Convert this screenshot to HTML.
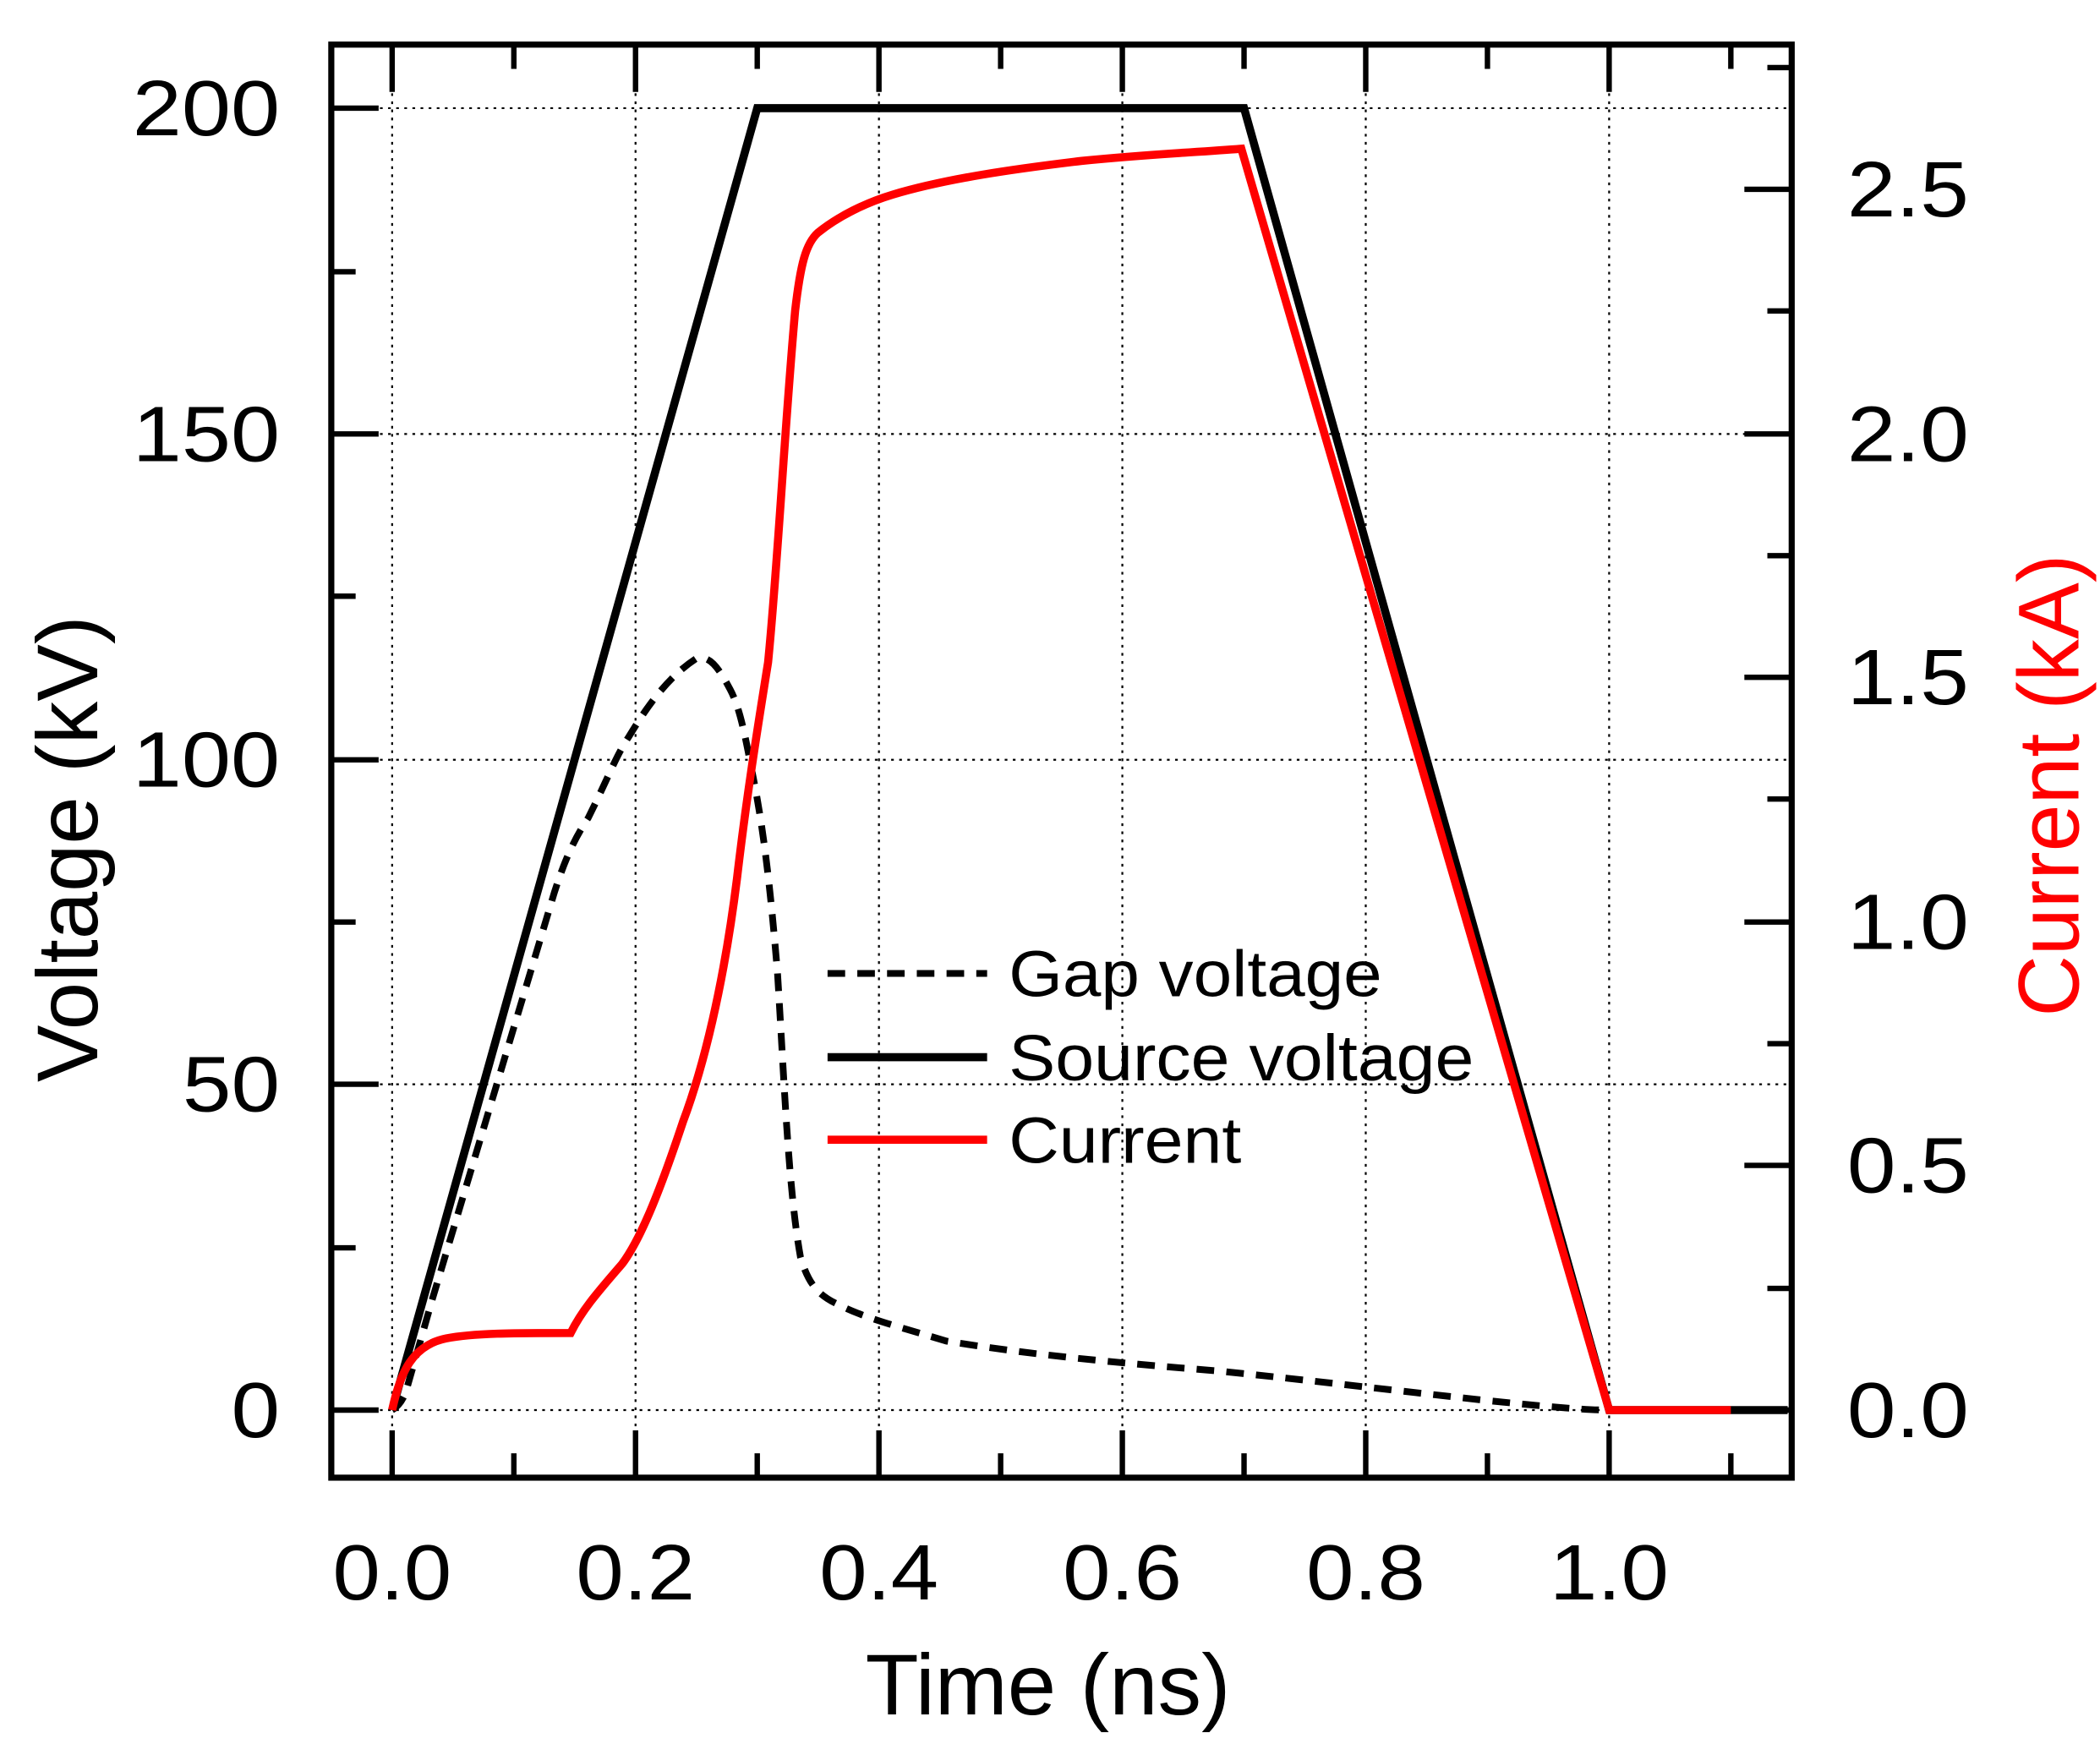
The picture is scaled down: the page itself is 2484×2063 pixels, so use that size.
<!DOCTYPE html>
<html><head><style>html,body{margin:0;padding:0;background:#fff}svg{display:block}</style></head>
<body>
<svg width="2484" height="2063" viewBox="0 0 1553 1290" preserveAspectRatio="none" xmlns="http://www.w3.org/2000/svg" font-family="'Liberation Sans Narrow','Liberation Sans',sans-serif">
<g stroke="#000" stroke-width="1.4" stroke-dasharray="2,4" fill="none">
<line x1="290" y1="33" x2="290" y2="1093"/><line x1="470" y1="33" x2="470" y2="1093"/><line x1="650" y1="33" x2="650" y2="1093"/><line x1="830" y1="33" x2="830" y2="1093"/><line x1="1010" y1="33" x2="1010" y2="1093"/><line x1="1190" y1="33" x2="1190" y2="1093"/>
<line x1="245" y1="80" x2="1325" y2="80"/><line x1="245" y1="321" x2="1325" y2="321"/><line x1="245" y1="562" x2="1325" y2="562"/><line x1="245" y1="802" x2="1325" y2="802"/><line x1="245" y1="1043" x2="1325" y2="1043"/>
</g>
<g stroke="#000" stroke-width="4">
<path d="M290 1093v-35M470 1093v-35M650 1093v-35M830 1093v-35M1010 1093v-35M1190 1093v-35M380 1093v-18M560 1093v-18M740 1093v-18M920 1093v-18M1100 1093v-18M1280 1093v-18"/>
<path d="M290 33v35M470 33v35M650 33v35M830 33v35M1010 33v35M1190 33v35M380 33v18M560 33v18M740 33v18M920 33v18M1100 33v18M1280 33v18"/>
<path d="M245 80h35M245 321h35M245 562h35M245 802h35M245 1043h35M245 201h18M245 441h18M245 682h18M245 923h18"/>
<path d="M1325 1043h-35M1325 862h-35M1325 682h-35M1325 501h-35M1325 321h-35M1325 140h-35M1325 953h-18M1325 772h-18M1325 591h-18M1325 411h-18M1325 230h-18M1325 50h-18"/>
</g>
<rect x="245" y="33" width="1080" height="1060" fill="none" stroke="#000" stroke-width="4.5"/>
<polyline points="290,1043 560,80 920,80 1190,1043 1280,1043 1322,1043" fill="none" stroke="#000" stroke-width="6"/>
<path d="M290,1043 C295,1040 298,1035 300,1030 L320,960 L350,860 L380,760 L410,660 C418,635 425,620 435,605 C450,575 455,560 465,545 C480,520 495,500 515,487 C525,484 532,495 540,510 C548,525 552,550 557,575 C565,615 570,660 575,720 C580,800 583,880 592,930 C598,950 605,958 620,965 C640,975 660,980 700,992 C750,1000 800,1006 900,1014 C960,1020 1000,1025 1100,1036 C1140,1040 1170,1043 1190,1043" fill="none" stroke="#000" stroke-width="5" stroke-dasharray="13,9"/>
<path d="M290,1043 C296,1015 305,995 330,990 C350,986 380,986 422,986 C430,970 440,958 460,935 C475,915 490,875 505,830 C520,790 535,730 545,650 C552,590 560,540 568,490 C575,420 580,320 588,230 C592,195 596,180 605,172 C620,160 640,150 660,144 C700,132 750,125 800,119 C850,114 880,113 918,110 L1190,1043 L1280,1043" fill="none" stroke="#f00" stroke-width="6"/>
<line x1="612" y1="720" x2="730" y2="720" stroke="#000" stroke-width="5" stroke-dasharray="13,9"/>
<line x1="612" y1="782" x2="730" y2="782" stroke="#000" stroke-width="6"/>
<line x1="612" y1="843" x2="730" y2="843" stroke="#f00" stroke-width="6"/>
<g font-size="48" fill="#000">
<text x="746" y="737" textLength="276" lengthAdjust="spacingAndGlyphs">Gap voltage</text>
<text x="746" y="799" textLength="344" lengthAdjust="spacingAndGlyphs">Source voltage</text>
<text x="746" y="860" textLength="172" lengthAdjust="spacingAndGlyphs">Current</text>
</g>
<g font-size="58" fill="#000" text-anchor="end">
<text x="207" y="100" textLength="109" lengthAdjust="spacingAndGlyphs">200</text>
<text x="207" y="341" textLength="109" lengthAdjust="spacingAndGlyphs">150</text>
<text x="207" y="582" textLength="109" lengthAdjust="spacingAndGlyphs">100</text>
<text x="207" y="822" textLength="72" lengthAdjust="spacingAndGlyphs">50</text>
<text x="207" y="1063" textLength="36" lengthAdjust="spacingAndGlyphs">0</text>
</g>
<g font-size="58" fill="#000" text-anchor="middle">
<text x="290" y="1183" textLength="88" lengthAdjust="spacingAndGlyphs">0.0</text>
<text x="470" y="1183" textLength="88" lengthAdjust="spacingAndGlyphs">0.2</text>
<text x="650" y="1183" textLength="88" lengthAdjust="spacingAndGlyphs">0.4</text>
<text x="830" y="1183" textLength="88" lengthAdjust="spacingAndGlyphs">0.6</text>
<text x="1010" y="1183" textLength="88" lengthAdjust="spacingAndGlyphs">0.8</text>
<text x="1190" y="1183" textLength="88" lengthAdjust="spacingAndGlyphs">1.0</text>
</g>
<g font-size="58" fill="#000">
<text x="1366" y="1063" textLength="90" lengthAdjust="spacingAndGlyphs">0.0</text>
<text x="1366" y="882" textLength="90" lengthAdjust="spacingAndGlyphs">0.5</text>
<text x="1366" y="702" textLength="90" lengthAdjust="spacingAndGlyphs">1.0</text>
<text x="1366" y="521" textLength="90" lengthAdjust="spacingAndGlyphs">1.5</text>
<text x="1366" y="341" textLength="90" lengthAdjust="spacingAndGlyphs">2.0</text>
<text x="1366" y="160" textLength="90" lengthAdjust="spacingAndGlyphs">2.5</text>
</g>
<text x="775" y="1268" font-size="64" text-anchor="middle" textLength="270" lengthAdjust="spacingAndGlyphs">Time (ns)</text>
<text transform="translate(72,628) rotate(-90)" font-size="64" text-anchor="middle" textLength="345" lengthAdjust="spacingAndGlyphs">Voltage (kV)</text>
<text transform="translate(1537,581) rotate(-90)" font-size="64" fill="#f00" text-anchor="middle" textLength="342" lengthAdjust="spacingAndGlyphs">Current (kA)</text>
</svg>
</body></html>
